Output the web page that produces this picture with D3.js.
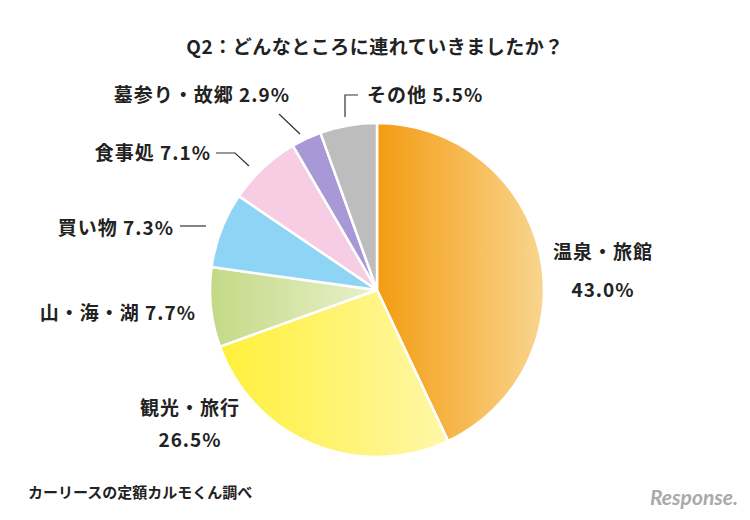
<!DOCTYPE html>
<html><head><meta charset="utf-8">
<script src="https://cdn.jsdelivr.net/npm/d3@7"></script>
<style>body{margin:0;background:#fff}text{font-family:"Noto Sans CJK JP",sans-serif;font-weight:bold;fill:#222}</style>
</head><body><svg id="c" width="750" height="520"></svg>
<script>
const labels = ["温泉・旅館", "観光・旅行", "山・海・湖", "買い物", "食事処", "墓参り・故郷", "その他"];
const values = [43.0, 26.5, 7.7, 7.3, 7.1, 2.9, 5.5];
const colorsFrom = ["#f39c12", "#fff03a", "#c3d986", "#8ed4f5", "#f7cde3", "#a898d6", "#bdbdbd"];
const colorsTo = ["#f9d58e", "#fff7a8", "#e9f1cc", "#8ed4f5", "#f7cde3", "#a898d6", "#bdbdbd"];

const svg = d3.select("#c");
const cx = 377, cy = 290, r = 167;

const defs = svg.append("defs");
labels.forEach((l, i) => {
  const g = defs.append("linearGradient").attr("id", "g" + i)
    .attr("x1", "0%").attr("x2", "100%").attr("y1", "0%").attr("y2", "0%");
  g.append("stop").attr("offset", "0%").attr("stop-color", colorsFrom[i]);
  g.append("stop").attr("offset", "100%").attr("stop-color", colorsTo[i]);
});

const pie = d3.pie().sort(null)(values);
const arc = d3.arc().innerRadius(0).outerRadius(r);
svg.append("g").attr("transform", `translate(${cx},${cy})`)
  .selectAll("path").data(pie).join("path")
  .attr("d", arc).attr("fill", (d, i) => `url(#g${i})`)
  .attr("stroke", "#fff").attr("stroke-width", 2.5);

svg.append("text").attr("x", 375).attr("y", 54).attr("text-anchor", "middle")
  .attr("font-size", 19).attr("letter-spacing", 0.5).text("Q2：どんなところに連れていきましたか？");

// leader lines
const leaders = [
  [[345, 117], [345, 95], [358, 95]],
  [[300, 134], [279, 114]],
  [[249, 166], [235, 153], [216, 153]],
  [[206, 226], [180, 226]]
];
svg.selectAll("polyline").data(leaders).join("polyline")
  .attr("points", d => d.join(" ")).attr("fill", "none")
  .attr("stroke", "#333").attr("stroke-width", 1.2);

const fmt = v => v.toFixed(1) + "%";
const lab = [
  [367, 102, "start", labels[6] + " " + fmt(values[6])],
  [290, 102, "end", labels[5] + " " + fmt(values[5])],
  [211, 160, "end", labels[4] + " " + fmt(values[4])],
  [174, 235, "end", labels[3] + " " + fmt(values[3])],
  [196, 320, "end", labels[2] + " " + fmt(values[2])],
  [603, 259, "middle", labels[0]],
  [603, 297, "middle", fmt(values[0])],
  [190, 415, "middle", labels[1]],
  [190, 447, "middle", fmt(values[1])]
];
svg.selectAll("text.l").data(lab).join("text").attr("class", "l")
  .attr("x", d => d[0]).attr("y", d => d[1]).attr("text-anchor", d => d[2])
  .attr("font-size", 19).attr("letter-spacing", 1).text(d => d[3]);

svg.append("text").attr("x", 28).attr("y", 498).attr("font-size", 15)
  .attr("font-weight", "normal").text("カーリースの定額カルモくん調べ");
svg.append("text").attr("x", 738).attr("y", 505).attr("text-anchor", "end")
  .attr("font-size", 21).style("fill", "#aaa").style("font-family", "Lato")
  .attr("font-style", "italic").text("Response.");
</script></body></html>
